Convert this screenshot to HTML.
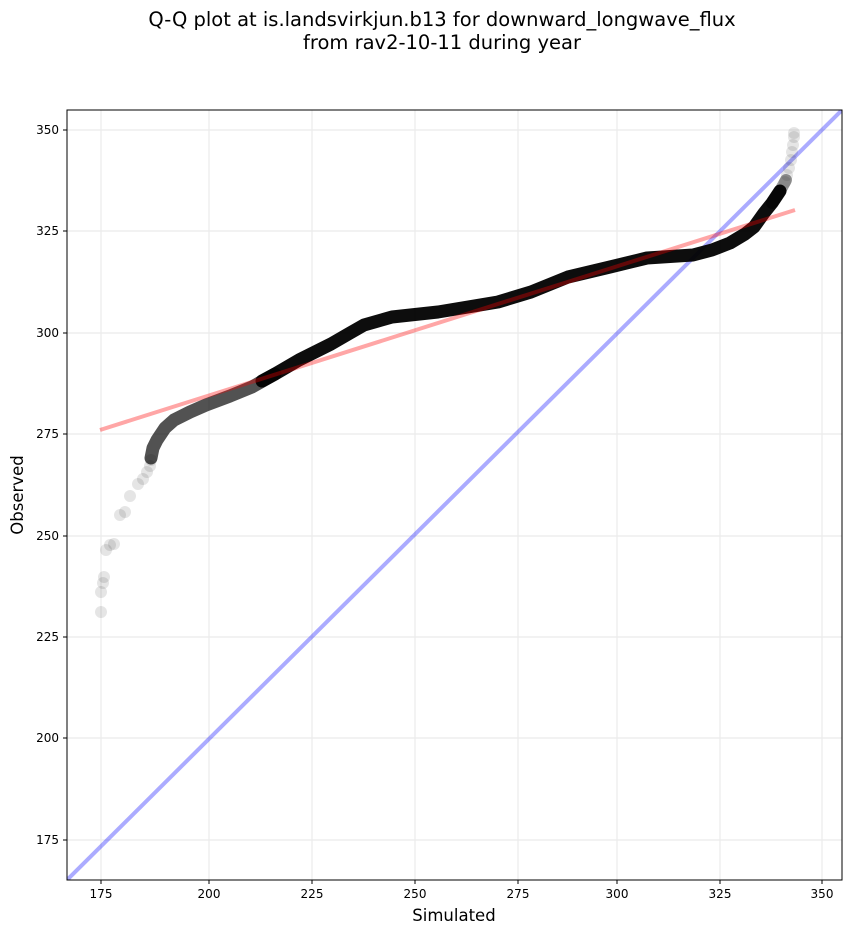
<!DOCTYPE html>
<html><head><style>body{margin:0;background:#fff}svg{display:block}</style></head><body>
<svg width="851" height="934" xmlns="http://www.w3.org/2000/svg" font-family="DejaVu Sans, sans-serif">
<rect width="851" height="934" fill="#fff"/>
<text x="442" y="26" font-size="19.5" text-anchor="middle">Q-Q plot at is.landsvirkjun.b13 for downward_longwave_flux</text>
<text x="442" y="49" font-size="19.5" text-anchor="middle">from rav2-10-11 during year</text>
<g stroke="#ebebeb" stroke-width="1.2">
<line x1="101" y1="110" x2="101" y2="880"/><line x1="209" y1="110" x2="209" y2="880"/><line x1="312" y1="110" x2="312" y2="880"/><line x1="415" y1="110" x2="415" y2="880"/><line x1="518" y1="110" x2="518" y2="880"/><line x1="617" y1="110" x2="617" y2="880"/><line x1="720" y1="110" x2="720" y2="880"/><line x1="822" y1="110" x2="822" y2="880"/>
<line x1="67" y1="130" x2="842" y2="130"/><line x1="67" y1="231" x2="842" y2="231"/><line x1="67" y1="333" x2="842" y2="333"/><line x1="67" y1="434" x2="842" y2="434"/><line x1="67" y1="536" x2="842" y2="536"/><line x1="67" y1="637" x2="842" y2="637"/><line x1="67" y1="738" x2="842" y2="738"/><line x1="67" y1="840" x2="842" y2="840"/>
</g>
<clipPath id="c"><rect x="67" y="110" width="775" height="770"/></clipPath>
<g clip-path="url(#c)">
<line x1="67" y1="880" x2="842" y2="110" stroke="#0000ff" stroke-opacity="0.33" stroke-width="4"/>
<g fill="#000" fill-opacity="0.1">
<circle cx="101" cy="612" r="6"/><circle cx="101" cy="592" r="6"/><circle cx="103" cy="583" r="6"/><circle cx="104" cy="577" r="6"/><circle cx="106" cy="550" r="6"/><circle cx="110" cy="545" r="6"/><circle cx="114" cy="544" r="6"/><circle cx="120" cy="515" r="6"/><circle cx="125" cy="512" r="6"/><circle cx="130" cy="496" r="6"/><circle cx="138" cy="484" r="6"/><circle cx="143" cy="479" r="6"/><circle cx="147" cy="472" r="6"/><circle cx="150" cy="466" r="6"/><circle cx="151" cy="460" r="6"/>
<circle cx="794" cy="133" r="6"/><circle cx="794" cy="137" r="6"/><circle cx="793" cy="145" r="6"/><circle cx="792" cy="152" r="6"/><circle cx="791" cy="160" r="6"/><circle cx="789" cy="168" r="6"/><circle cx="787" cy="175" r="6"/><circle cx="785" cy="182" r="6"/>
</g>
<path d="M151,458 L153,448 L157,440 L165,428 L174,420 L190,412 L206,405 L230,396 L252,387 L275,374" fill="none" stroke="#000" stroke-opacity="0.68" stroke-width="13" stroke-linejoin="round" stroke-linecap="round"/>
<path d="M262,381 L275,374 L299,360 L331,344 L350,333 L364,325 L392,317 L438,312 L498,302 L531,292 L568,277 L610,267 L647,258 L693,255 L712,250 L730,243 L745,234 L754,227 L764,213 L772,203 L780,191" fill="none" stroke="#000" stroke-opacity="0.95" stroke-width="13" stroke-linejoin="round" stroke-linecap="round"/>
<path d="M772,203 L780,191 L786,180" fill="none" stroke="#000" stroke-opacity="0.4" stroke-width="12" stroke-linecap="round"/>
<line x1="100" y1="430" x2="795" y2="210" stroke="#ff0000" stroke-opacity="0.35" stroke-width="4"/>
</g>
<rect x="67" y="110" width="775" height="770" fill="none" stroke="#000" stroke-width="1"/>
<g font-size="12" text-anchor="middle">
<text x="101" y="898">175</text><text x="209" y="898">200</text><text x="312" y="898">225</text><text x="415" y="898">250</text><text x="518" y="898">275</text><text x="617" y="898">300</text><text x="720" y="898">325</text><text x="822" y="898">350</text>
</g>
<g stroke="#000"><line x1="101" y1="880" x2="101" y2="884"/><line x1="209" y1="880" x2="209" y2="884"/><line x1="312" y1="880" x2="312" y2="884"/><line x1="415" y1="880" x2="415" y2="884"/><line x1="518" y1="880" x2="518" y2="884"/><line x1="617" y1="880" x2="617" y2="884"/><line x1="720" y1="880" x2="720" y2="884"/><line x1="822" y1="880" x2="822" y2="884"/>
<line x1="63" y1="130" x2="67" y2="130"/><line x1="63" y1="231" x2="67" y2="231"/><line x1="63" y1="333" x2="67" y2="333"/><line x1="63" y1="434" x2="67" y2="434"/><line x1="63" y1="536" x2="67" y2="536"/><line x1="63" y1="637" x2="67" y2="637"/><line x1="63" y1="738" x2="67" y2="738"/><line x1="63" y1="840" x2="67" y2="840"/></g>
<g font-size="12" text-anchor="end">
<text x="59" y="134">350</text><text x="59" y="235">325</text><text x="59" y="337">300</text><text x="59" y="438">275</text><text x="59" y="540">250</text><text x="59" y="641">225</text><text x="59" y="742">200</text><text x="59" y="844">175</text>
</g>
<text x="454" y="921" font-size="16.5" text-anchor="middle">Simulated</text>
<text x="23" y="495" font-size="16.5" text-anchor="middle" transform="rotate(-90 23 495)">Observed</text>
</svg>
</body></html>
